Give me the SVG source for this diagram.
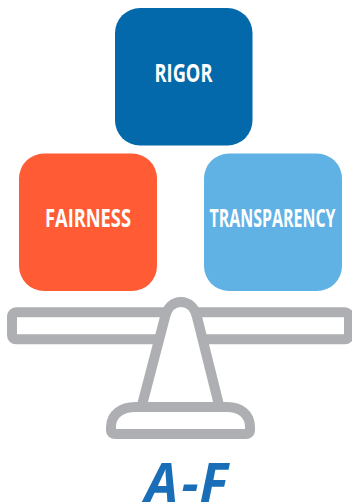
<svg xmlns="http://www.w3.org/2000/svg" width="352" height="503" viewBox="0 0 352 503">
<style>
.box{stroke:none}
.lbl{font-family:"Open Sans","Liberation Sans",sans-serif;font-weight:700;font-size:24.500px;fill:#fff}
.sc{fill:#fff;stroke:#aeafb2;stroke-width:10;stroke-linejoin:round}
</style>
<rect width="352" height="503" fill="#fff"/>
<g id="rigor"><rect class="box" x="115" y="8" width="137.500" height="137.500" rx="25" fill="#0369aa"/><text class="lbl" x="154.500" y="82" textLength="58" lengthAdjust="spacingAndGlyphs">RIGOR</text></g>
<g id="fairness"><rect class="box" x="19" y="153.500" width="138" height="137.500" rx="25" fill="#ff5c35"/><text class="lbl" x="45" y="227" textLength="86" lengthAdjust="spacingAndGlyphs">FAIRNESS</text></g>
<g id="transparency"><rect class="box" x="204" y="153.500" width="138" height="137.500" rx="25" fill="#60b1e4"/><text class="lbl" x="209.500" y="227" textLength="126" lengthAdjust="spacingAndGlyphs">TRANSPARENCY</text></g>
<g id="scale">
<rect class="sc" x="12" y="312.300" width="337" height="27" rx="4"/>
<path class="sc" d="M111 427C111 414 122 407 135 407H141.500L165 317C167 308 173 302 181 302C189 302 195 308 197 317L219.500 407H227C240 407 250 414 250 427V430C250 433 248 434 246 434H115C113 434 111 433 111 430Z"/>
<path d="M140 407H222" fill="none" stroke="#aeafb2" stroke-width="10"/>
</g>
<text id="title" x="145 181.500 199.500" y="501.500" style="font-family:'Open Sans','Liberation Sans',sans-serif;font-weight:700;font-style:italic;font-size:53px;fill:#1a6eb7">A-F</text>
</svg>
